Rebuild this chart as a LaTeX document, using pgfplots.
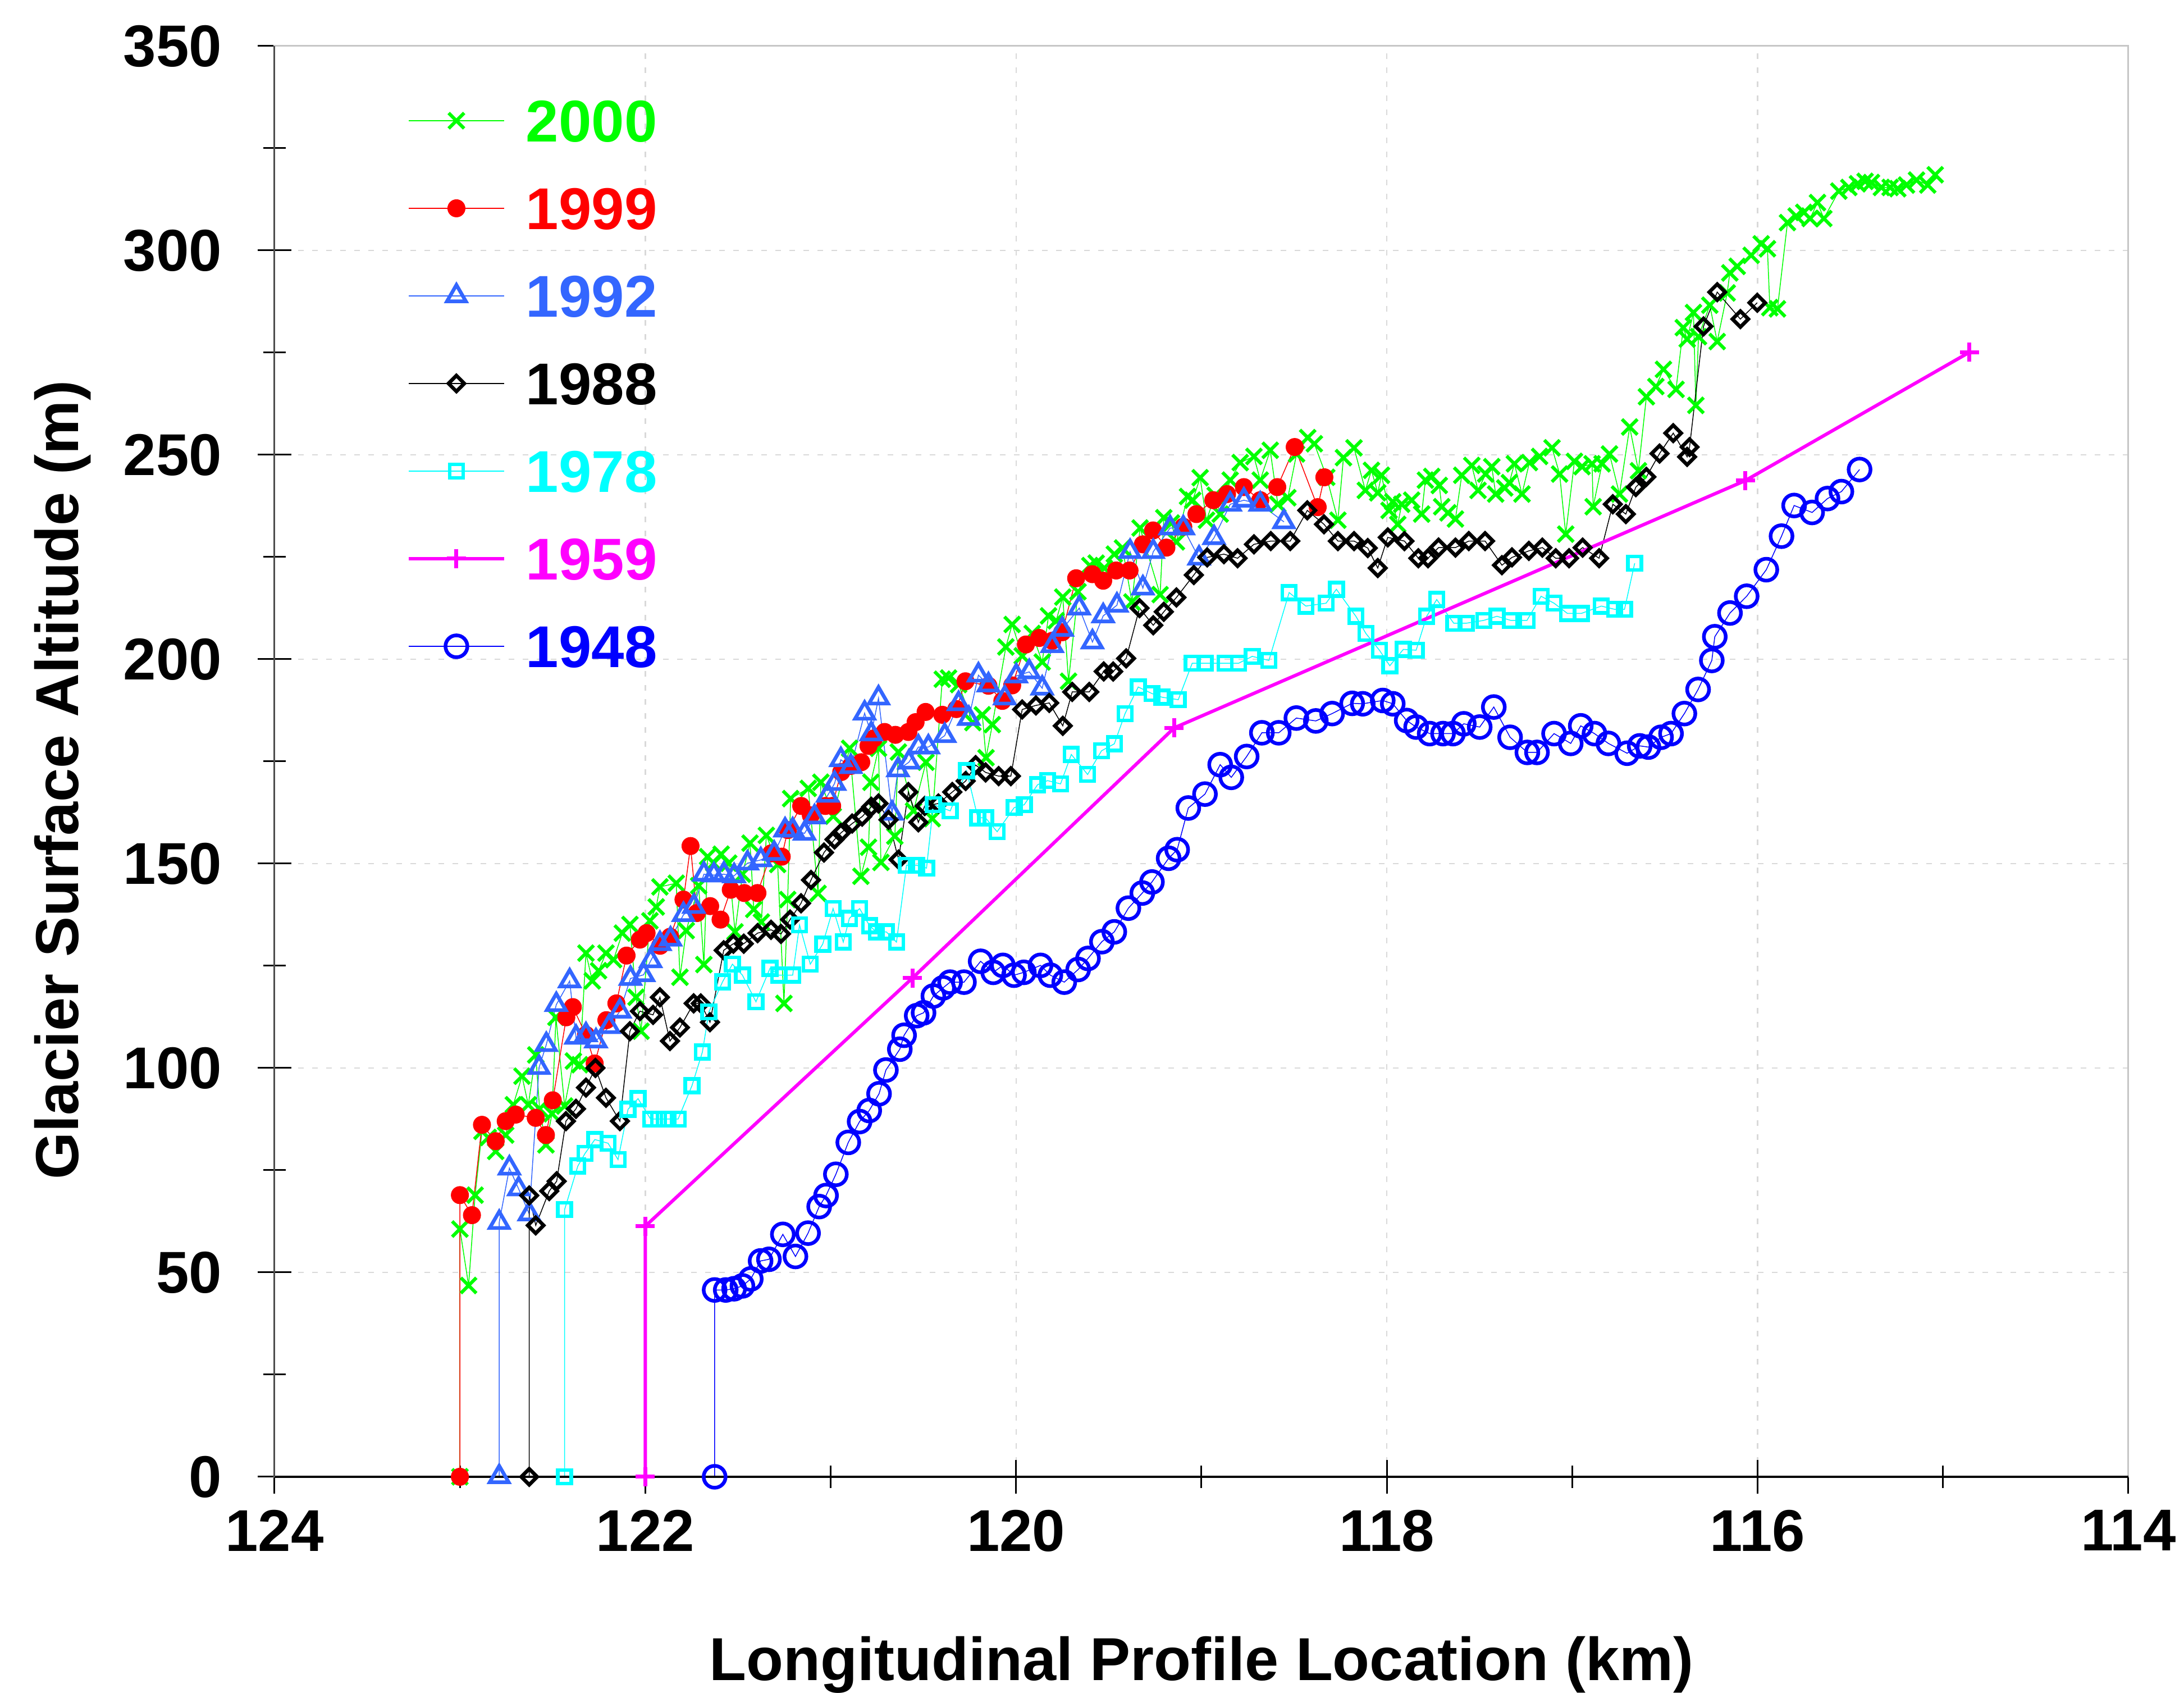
\documentclass[border=0pt]{standalone}
\usepackage{pgfplots}
\pgfplotsset{compat=1.18}
\usepackage{fontspec}
\setmainfont{Liberation Sans}

\definecolor{cTwoK}{RGB}{0,255,0}
\definecolor{cRed}{RGB}{255,0,0}
\definecolor{cRoyal}{RGB}{51,102,255}
\definecolor{cCyan}{RGB}{0,255,255}
\definecolor{cMag}{RGB}{255,0,255}
\definecolor{cBlue}{RGB}{0,0,255}
\newcommand\lbl{\bfseries\fontsize{10.5}{12.6}\selectfont}

\begin{document}
\begin{tikzpicture}
\begin{axis}[
    name=main,
    scale only axis, width=330.2pt, height=254.8pt,
    x dir=reverse,
    xmin=114, xmax=124, ymin=0, ymax=350,
    xtick={114,116,...,124}, ytick={0,50,...,350},
    minor x tick num=1, minor y tick num=1,
    tick pos=left,
    tick align=center, major tick length=6pt, minor tick length=4pt,
    tick style={black, line width=0.3pt},
    grid=major,
    major grid style={gray!30, dash pattern=on 1pt off 1.5pt, line width=0.25pt},
    axis line style={gray!45, line width=0.3pt},
    clip=false,
    /pgf/number format/assume math mode=true,
    tick label style={font=\lbl},
    xticklabel style={anchor=north, inner sep=0pt, yshift=-2.7pt},
    yticklabel style={anchor=east, inner sep=0pt, xshift=-6.2pt},
    xlabel={Longitudinal Profile Location (km)},
    ylabel={Glacier Surface Altitude (m)},
    label style={font=\bfseries\fontsize{10.8}{13}\selectfont},
    xlabel style={at={([yshift=-33.5pt]axis description cs:0.5,0)}, anchor=center},
    ylabel style={at={([xshift=-37.7pt]axis description cs:0,0.487)}, anchor=center},
    legend image code/.code={\draw[mark repeat=2,mark phase=2,#1] plot coordinates {(0pt,0pt) (8.5pt,0pt) (17pt,0pt)};},
    legend style={at={(0,1)}, anchor=north west, xshift=23.4pt, yshift=-9.35pt,
        draw=none, fill=none, inner sep=0pt, row sep=8.1pt,
        font=\lbl,
        nodes={inner sep=0pt, text height=7.5pt, text depth=0pt},
        /tikz/every odd column/.append style={column sep=3.6pt}},
    legend cell align=left,
]

% 2000
\addplot[color=cTwoK, line width=0.15pt, mark=x, mark size=1.95pt, mark options={line width=0.6pt}] coordinates {
(123.0,0) (123.0,60.6) (122.953,46.8) (122.918,68.9) (122.881,84.5) (122.847,83.0) (122.807,79.6)
(122.753,83.6) (122.712,91.0) (122.665,98.0) (122.631,91.0) (122.591,103.2) (122.570,90.0)
(122.536,81.2) (122.503,88.8) (122.482,112.4) (122.435,90.7) (122.388,101.7) (122.354,100.8)
(122.320,128.1) (122.286,121.3) (122.252,123.8) (122.212,128.1) (122.171,126.5) (122.124,133.0)
(122.083,135.1) (122.050,117.3) (122.023,109.0) (121.975,136.0) (121.941,139.4) (121.921,144.3)
(121.833,145.2) (121.813,122.2) (121.779,133.6) (121.712,144.6) (121.684,125.3) (121.664,151.7)
(121.631,150.1) (121.591,152.3) (121.550,150.1) (121.516,133.3) (121.476,147.4) (121.435,155.0)
(121.415,138.8) (121.374,135.7) (121.347,156.9) (121.286,149.8) (121.252,115.8) (121.232,141.2)
(121.216,165.9) (121.121,168.4) (121.068,142.7) (121.053,169.9) (120.986,161.6) (120.898,178.2)
(120.837,146.9) (120.796,154.0) (120.783,169.9) (120.742,178.2) (120.729,150.3) (120.654,156.7)
(120.635,177.3) (120.553,162.9) (120.486,174.8) (120.452,161.0) (120.398,195.1) (120.364,195.4)
(120.310,193.8) (120.233,184.5) (120.182,186.4) (120.162,175.9) (120.128,184.0) (120.055,203.0)
(120.021,208.5) (119.967,200.8) (119.913,206.3) (119.859,199.3) (119.825,210.6) (119.784,209.4)
(119.748,215.2) (119.717,194.6) (119.666,216.5) (119.602,222.9) (119.568,223.5) (119.524,222.3)
(119.470,225.7) (119.426,227.2) (119.375,214.0) (119.331,232.1) (119.223,215.8) (119.203,234.6)
(119.162,233.3) (119.135,228.7) (119.075,239.8) (119.047,238.9) (119.007,244.4) (118.973,234.0)
(118.926,240.1) (118.899,235.5) (118.845,243.8) (118.791,248.1) (118.717,249.6) (118.683,243.8)
(118.629,251.1) (118.588,237.9) (118.534,239.5) (118.487,250.2) (118.427,254.2) (118.391,252.7)
(118.324,244.5) (118.264,234.0) (118.234,249.3) (118.177,251.7) (118.116,241.3) (118.083,246.2)
(118.049,240.7) (118.029,245.0) (117.988,236.4) (117.968,238.5) (117.941,233.0) (117.920,237.9)
(117.866,238.9) (117.812,235.5) (117.792,243.8) (117.758,244.7) (117.717,242.5) (117.704,237.3)
(117.670,235.8) (117.630,234.3) (117.596,245.0) (117.542,247.4) (117.508,241.3) (117.467,245.3)
(117.434,247.1) (117.413,240.4) (117.364,241.9) (117.339,243.2) (117.312,247.8) (117.271,240.4)
(117.231,248.1) (117.176,249.6) (117.109,251.7) (117.068,245.3) (117.035,230.6) (116.988,248.4)
(116.947,247.1) (116.893,247.8) (116.887,237.3) (116.839,247.8) (116.799,250.2) (116.745,240.4)
(116.690,256.8) (116.643,246.1) (116.600,264.2) (116.549,266.7) (116.508,270.9) (116.440,266.0)
(116.401,281.1) (116.380,278.3) (116.346,284.8) (116.333,262.1) (116.319,278.9) (116.258,286.6)
(116.218,277.7) (116.164,289.6) (116.150,294.5) (116.110,296.1) (116.035,298.8) (115.981,301.6)
(115.947,300.4) (115.934,286.0) (115.893,285.7) (115.839,306.8) (115.792,308.4) (115.751,309.3)
(115.717,307.8) (115.677,311.7) (115.643,307.8) (115.562,314.5) (115.508,315.4) (115.461,316.3)
(115.420,316.9) (115.386,316.6) (115.332,315.4) (115.285,315.4) (115.244,315.1) (115.197,316.0)
(115.143,317.2) (115.082,316.0) (115.042,318.5)
};
\addlegendentry{\textcolor{cTwoK}{2000}}

% 1999
\addplot[color=cRed, line width=0.15pt, mark=*, mark size=1.55pt, mark options={fill=cRed, draw=cRed, line width=0.1pt}] coordinates {
(123.0,0) (123.0,68.9) (122.935,64.0) (122.881,86.1) (122.807,82.1) (122.753,87.0) (122.699,88.6)
(122.591,87.8) (122.536,83.6) (122.499,92.1) (122.426,112.4) (122.391,114.9) (122.320,108.1)
(122.273,101.1) (122.210,111.7) (122.156,115.8) (122.101,127.5) (122.029,131.4) (121.993,133.0)
(121.920,129.9) (121.866,132.1) (121.794,141.2) (121.756,154.3) (121.722,137.9) (121.650,139.6)
(121.594,136.3) (121.539,143.6) (121.466,142.8) (121.395,142.8) (121.321,152.5) (121.264,151.7)
(121.231,158.2) (121.159,164.1) (121.107,161.8) (121.029,164.1) (120.992,164.1) (120.943,172.4)
(120.891,173.9) (120.835,174.8) (120.796,178.8) (120.767,180.6) (120.709,182.2) (120.651,181.5)
(120.581,182.2) (120.542,184.6) (120.488,187.1) (120.398,186.4) (120.322,187.8) (120.273,194.6)
(120.149,193.5) (120.074,189.8) (120.021,193.6) (119.947,203.6) (119.875,205.2) (119.805,204.5)
(119.751,206.6) (119.676,219.8) (119.588,220.8) (119.530,219.2) (119.460,221.7) (119.388,221.7)
(119.316,228.1) (119.261,231.5) (119.189,227.3) (119.098,232.4) (119.027,235.5) (118.936,238.9)
(118.862,240.4) (118.771,242.1) (118.683,238.9) (118.591,242.1) (118.497,251.9) (118.373,237.2)
(118.337,244.5)
};
\addlegendentry{\textcolor{cRed}{1999}}

% 1992
\addplot[color=cRoyal, line width=0.15pt, mark=triangle, mark size=1.95pt, mark options={line width=0.65pt}] coordinates {
(122.788,0) (122.788,62.2) (122.733,75.5) (122.683,70.4) (122.626,64.3) (122.573,100.1) (122.534,105.7)
(122.480,115.5) (122.408,121.3) (122.374,107.5) (122.320,108.1) (122.266,106.6) (122.195,110.1)
(122.137,113.9) (122.080,121.9) (122.009,122.8) (121.971,126.2) (121.921,130.4) (121.864,131.5)
(121.794,137.5) (121.738,139.5) (121.684,147.4) (121.630,147.2) (121.576,147.4) (121.521,147.0)
(121.449,150.1) (121.377,150.9) (121.305,152.5) (121.246,158.2) (121.205,158.2) (121.141,157.4)
(121.087,161.4) (121.016,166.7) (120.979,169.6) (120.945,175.4) (120.891,173.7) (120.817,186.8)
(120.781,181.7) (120.742,190.5) (120.669,162.3) (120.637,172.9) (120.578,174.8) (120.527,178.5)
(120.473,178.5) (120.385,181.3) (120.310,189.1) (120.255,185.5) (120.203,196.1) (120.149,193.7)
(120.061,190.5) (119.999,195.9) (119.929,196.9) (119.859,192.9) (119.805,203.3) (119.751,207.3)
(119.659,212.5) (119.588,204.2) (119.530,210.6) (119.456,213.2) (119.385,226.3) (119.316,217.4)
(119.260,226.3) (119.169,232.1) (119.098,232.1) (119.013,224.7) (118.932,229.7) (118.845,237.9)
(118.771,238.9) (118.683,237.9) (118.555,233.6)
};
\addlegendentry{\textcolor{cRoyal}{1992}}

% 1988
\addplot[color=black, line width=0.15pt, mark=square, mark size=1.0pt, mark options={rotate=45, line width=0.65pt}] coordinates {
(122.626,0) (122.626,68.8) (122.591,61.5) (122.518,69.9) (122.478,72.3) (122.428,87.0) (122.374,90.0)
(122.320,95.2) (122.269,100.0) (122.212,92.7) (122.137,87.0) (122.083,109.0) (122.029,113.9)
(121.958,113.0) (121.921,117.3) (121.867,106.6) (121.813,109.9) (121.739,115.8) (121.701,115.8)
(121.651,111.2) (121.577,128.8) (121.525,130.4) (121.469,130.4) (121.394,133.0) (121.322,133.8)
(121.268,132.8) (121.219,136.3) (121.160,140.3) (121.106,146.0) (121.036,152.7) (120.979,155.9)
(120.945,157.5) (120.884,159.8) (120.830,161.5) (120.781,163.9) (120.742,164.7) (120.688,160.7)
(120.634,151.0) (120.581,167.5) (120.527,160.1) (120.493,164.1) (120.419,164.7) (120.344,167.5)
(120.272,170.2) (120.218,174.1) (120.164,172.3) (120.094,171.4) (120.028,171.4) (119.967,187.7)
(119.893,188.7) (119.821,189.3) (119.748,183.7) (119.697,192.0) (119.605,192.0) (119.527,197.0)
(119.476,197.0) (119.406,200.2) (119.334,212.5) (119.260,208.3) (119.203,211.6) (119.135,215.1)
(119.041,220.6) (118.969,224.9) (118.879,225.7) (118.805,224.7) (118.717,228.1) (118.626,228.9)
(118.521,228.9) (118.429,236.4) (118.339,233.0) (118.264,228.9) (118.177,228.9) (118.103,227.2)
(118.049,222.3) (117.995,229.8) (117.905,228.9) (117.830,224.7) (117.778,224.7) (117.721,227.3)
(117.630,227.3) (117.558,228.9) (117.470,228.9) (117.379,223.0) (117.325,224.9) (117.234,226.5)
(117.161,227.3) (117.089,224.7) (117.017,224.7) (116.944,227.3) (116.855,224.7) (116.781,237.9)
(116.711,235.5) (116.657,242.1) (116.600,244.6) (116.529,250.3) (116.455,255.3) (116.380,249.5)
(116.367,251.9) (116.292,281.4) (116.218,289.8) (116.093,283.2) (116.002,287.2)
};
\addlegendentry{1988}

% 1978
\addplot[color=cCyan, line width=0.15pt, mark=square, mark size=1.2pt, mark options={line width=0.65pt}] coordinates {
(122.435,0) (122.435,65.4) (122.364,76.0) (122.325,79.1) (122.272,82.5) (122.201,81.6) (122.147,77.6)
(122.093,89.9) (122.039,92.5) (121.971,87.5) (121.928,87.5) (121.877,87.5) (121.823,87.5)
(121.748,95.7) (121.692,103.9) (121.657,113.7) (121.583,121.1) (121.530,125.4) (121.476,122.7)
(121.403,116.2) (121.327,124.4) (121.280,122.7) (121.205,122.7) (121.168,135.0) (121.110,125.4)
(121.043,130.3) (120.987,139.0) (120.932,130.8) (120.899,136.6) (120.844,139.0) (120.790,134.8)
(120.754,133.3) (120.700,133.3) (120.645,130.8) (120.591,149.6) (120.537,149.6) (120.483,148.9)
(120.446,164.4) (120.355,162.9) (120.267,172.7) (120.206,161.2) (120.165,161.2) (120.102,157.8)
(120.010,163.7) (119.956,164.4) (119.884,169.3) (119.830,170.3) (119.760,169.5) (119.702,176.7)
(119.614,171.8) (119.539,177.6) (119.470,179.3) (119.412,186.7) (119.341,193.2) (119.267,191.6)
(119.213,190.7) (119.125,190.1) (119.050,199.0) (118.980,199.0) (118.872,199.0) (118.800,199.0)
(118.726,200.7) (118.636,199.7) (118.527,216.3) (118.437,213.0) (118.328,213.7) (118.272,217.1)
(118.167,210.5) (118.113,206.3) (118.040,202.2) (117.984,198.4) (117.911,202.4) (117.842,202.2)
(117.785,210.5) (117.731,214.6) (117.639,208.8) (117.572,208.8) (117.477,209.5) (117.406,210.5)
(117.332,209.5) (117.244,209.5) (117.168,215.4) (117.098,213.7) (117.026,211.2) (116.951,211.2)
(116.843,213.0) (116.771,212.2) (116.718,212.2) (116.663,223.5)
};
\addlegendentry{\textcolor{cCyan}{1978}}

% 1959
\addplot[color=cMag, line width=0.6pt, mark=+, mark size=1.7pt, mark options={line width=0.7pt}] coordinates {
(122.0,0) (122.0,61.3) (120.559,122.0) (119.147,183.2) (116.066,243.7) (114.857,275.1)
};
\addlegendentry{\textcolor{cMag}{1959}}

% 1948
\addplot[color=cBlue, line width=0.15pt, mark=o, mark size=1.95pt, mark options={line width=0.65pt}] coordinates {
(121.626,0) (121.626,45.7) (121.566,45.7) (121.521,46.0) (121.476,46.7) (121.431,48.4) (121.378,52.8)
(121.333,53.2) (121.258,59.3) (121.190,53.9) (121.122,59.6) (121.062,66.1) (121.025,68.8)
(120.972,74.0) (120.905,81.8) (120.844,86.9) (120.792,89.6) (120.739,93.7) (120.702,99.5)
(120.627,104.6) (120.604,108.0) (120.536,112.8) (120.499,113.5) (120.446,117.6) (120.394,119.6)
(120.356,121.0) (120.281,121.0) (120.191,126.1) (120.123,123.4) (120.071,125.1) (120.011,122.7)
(119.958,123.4) (119.868,125.1) (119.815,122.7) (119.740,121.0) (119.665,124.1) (119.612,126.8)
(119.537,130.9) (119.470,133.3) (119.394,139.1) (119.319,142.8) (119.267,145.5) (119.177,151.3)
(119.131,153.4) (119.071,163.6) (118.981,167.0) (118.899,174.2) (118.839,171.1) (118.756,176.2)
(118.674,182.0) (118.583,182.0) (118.488,185.6) (118.383,184.9) (118.295,186.7) (118.187,189.2)
(118.130,189.1) (118.022,189.9) (117.968,189.1) (117.893,185.0) (117.842,183.4) (117.769,181.8)
(117.697,181.8) (117.643,181.8) (117.585,184.2) (117.499,183.4) (117.423,188.3) (117.335,180.9)
(117.242,177.2) (117.190,177.2) (117.098,181.8) (117.008,179.4) (116.954,183.7) (116.880,181.8)
(116.805,179.4) (116.704,177.0) (116.636,178.8) (116.589,178.5) (116.521,180.9) (116.467,181.8)
(116.395,186.7) (116.321,192.6) (116.247,199.7) (116.231,205.5) (116.149,211.3) (116.059,215.4)
(115.953,221.9) (115.871,230.1) (115.803,237.6) (115.706,235.9) (115.623,239.3) (115.548,241.0)
(115.450,246.4)
};
\addlegendentry{\textcolor{cBlue}{1948}}

\draw[black, line width=0.35pt] (axis description cs:0,0) -- (axis description cs:1,0);
\draw[gray!60!black, line width=0.3pt] (axis description cs:0,0) -- (axis description cs:0,1);
\end{axis}
\pgfresetboundingbox
\path ([xshift=-48.9pt,yshift=-38.5pt]main.south west) rectangle ([xshift=9.9pt,yshift=8.2pt]main.north east);
\end{tikzpicture}
\end{document}
